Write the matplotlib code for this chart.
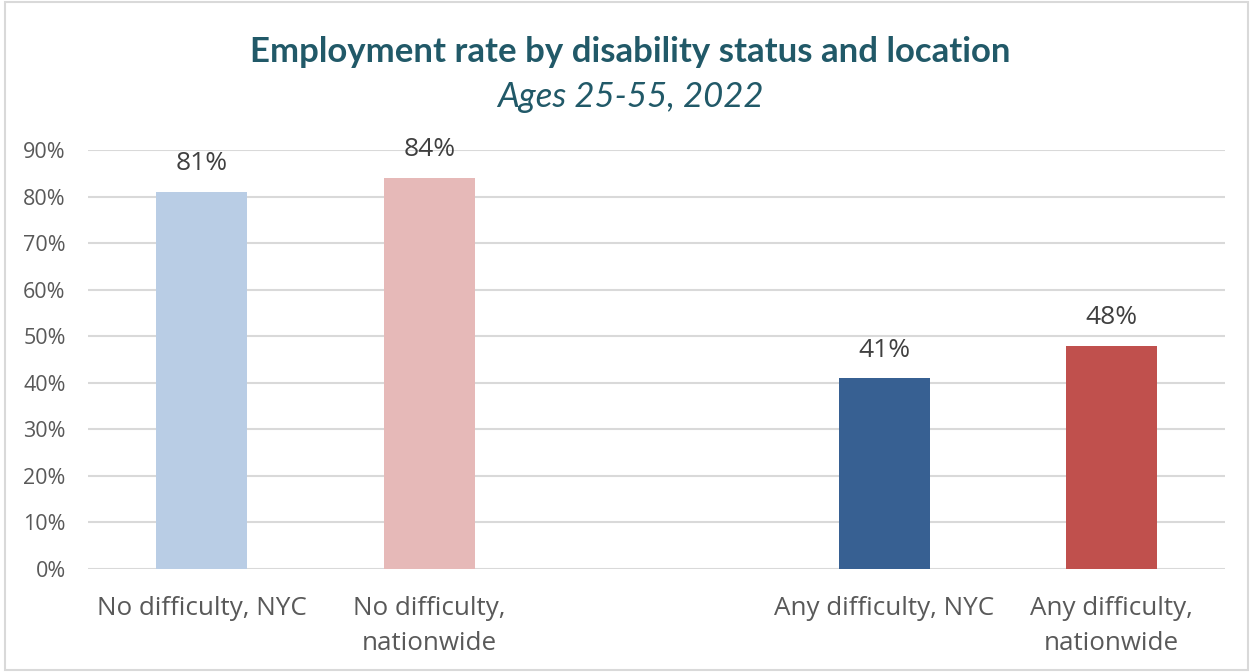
import matplotlib
matplotlib.use("Agg")
import matplotlib.pyplot as plt
from matplotlib.patches import Rectangle
from matplotlib.ticker import FuncFormatter, MultipleLocator

plt.rcParams['font.family'] = ['Open Sans', 'DejaVu Sans']

categories = ["No difficulty, NYC", "No difficulty,\nnationwide", "",
              "Any difficulty, NYC", "Any difficulty,\nnationwide"]
rates = [81, 84, None, 41, 48]
colors = ["#B9CDE5", "#E6B9B8", None, "#376092", "#C0504D"]
title = "Employment rate by disability status and location"
subtitle = "Ages 25-55, 2022"

fig = plt.figure(figsize=(12.53, 6.72), dpi=100)
ax = fig.add_axes([0.0702, 0.1533, 0.9078, 0.6235])

positions = list(range(len(categories)))
for x, v, c in zip(positions, rates, colors):
    if v is None:
        continue
    ax.bar(x, v / 100, width=0.4, color=c, zorder=3)
    ax.text(x, v / 100 + 0.06, f"{v}%", ha="center", va="center",
            fontsize=19, color="#404040")

ax.set_xlim(-0.5, len(categories) - 0.5)
ax.set_ylim(0, 0.9)
ax.yaxis.set_major_locator(MultipleLocator(0.1))
ax.yaxis.set_major_formatter(FuncFormatter(lambda y, _: f"{y*100:.0f}%"))
ax.grid(axis="y", color="#D9D9D9", linewidth=1.5, zorder=0)
for s in ax.spines.values():
    s.set_visible(False)
ax.tick_params(axis="both", length=0, labelsize=15.5, labelcolor="#595959")
ax.tick_params(axis="y", pad=16)
ax.set_xticks(positions)
ax.set_xticklabels(categories, fontsize=18.75, color="#595959", linespacing=1.5)
ax.tick_params(axis="x", pad=19.5)

fig.text(0.503, 0.922, title, ha="center", va="center", fontsize=25,
         fontweight="bold", color="#215968", family=["Lato", "DejaVu Sans"])
fig.text(0.503, 0.855, subtitle, ha="center", va="center", fontsize=25,
         style="italic", color="#215968", family=["Lato", "DejaVu Sans"])

fig.patches.append(Rectangle((0.004, 0.003), 0.992, 0.994, transform=fig.transFigure,
                             fill=False, edgecolor="#D9D9D9", linewidth=1.5))

fig.savefig("out.png", dpi=100)
